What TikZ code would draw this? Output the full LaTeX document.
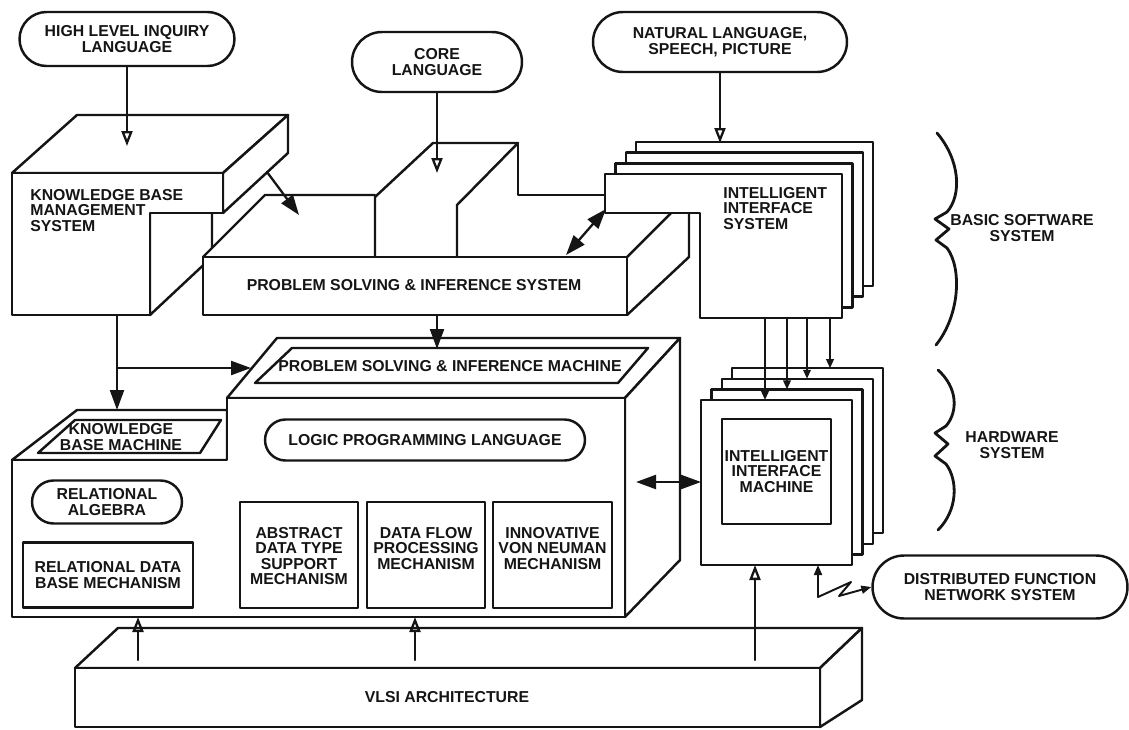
\documentclass[tikz,border=0pt]{standalone}
\usepackage{fontspec}
\setmainfont{Liberation Sans}
\usetikzlibrary{arrows.meta,shapes.misc}
\definecolor{FGInk}{HTML}{151515}
\definecolor{FGPaper}{HTML}{FFFFFF}

\begin{document}
\begin{tikzpicture}[x=0.02cm,y=-0.02cm,line cap=round,line join=round,
    font=\bfseries\fontsize{9}{8.8}\selectfont,
    ink/.style={draw=FGInk,line width=1.4pt},
    face/.style={ink,fill=FGPaper},
    pill/.style={ink,fill=FGPaper,rounded rectangle,align=center,inner sep=0pt,text=FGInk},
    mech/.style={ink,fill=FGPaper,rectangle,align=center,inner sep=0pt,text=FGInk},
    lbl/.style={align=center,inner sep=0pt,text=FGInk},
    feed/.style={draw=FGInk,line width=1.3pt,-{Triangle[open,length=0.3cm,width=0.22cm,line width=1.3pt]}},
    flow/.style={draw=FGInk,line width=1.3pt,-{Triangle[length=0.4cm,width=0.28cm]}},
    twoway/.style={draw=FGInk,line width=1.3pt,{Triangle[length=0.4cm,width=0.28cm]}-{Triangle[length=0.4cm,width=0.28cm]}},
    busarrow/.style={draw=FGInk,line width=1.1pt,-{Triangle[length=0.18cm,width=0.15cm]}},
    zap/.style={draw=FGInk,line width=1.1pt,{Triangle[length=0.2cm,width=0.16cm]}-{Triangle[length=0.2cm,width=0.16cm]}},
    curly/.style={draw=FGInk,line width=1.6pt}]
  \useasboundingbox (0,0) rectangle (1129,730);

  % language inputs
  \node[pill,minimum width=4.3cm,minimum height=1.08cm] (hlil) at (127,39) {HIGH LEVEL INQUIRY\\LANGUAGE};
  \node[pill,minimum width=3.4cm,minimum height=1.2cm] (core) at (437,62) {CORE\\LANGUAGE};
  \node[pill,minimum width=5.08cm,minimum height=1.2cm] (nlsp) at (720,42) {NATURAL LANGUAGE,\\SPEECH, PICTURE};

  % knowledge base management system
  \draw[face] (150,213) -- (212,155) -- (212,257) -- (150,315) -- cycle;
  \draw[face] (12,173) -- (77,115) -- (288,115) -- (223,173) -- cycle;
  \draw[face] (223,173) -- (288,115) -- (288,153) -- (223,213) -- cycle;
  \draw[face] (12,173) -- (223,173) -- (223,213) -- (150,213) -- (150,315) -- (12,315) -- cycle;
  \node[lbl,align=left,anchor=north west] (kbms) at (30,189) {KNOWLEDGE BASE\\MANAGEMENT\\SYSTEM};

  % problem solving & inference system
  \fill[FGPaper] (203,315) -- (203,257) -- (265,195) -- (375,195) -- (433,143) -- (518,143) -- (518,195) -- (689,195) -- (689,257) -- (627,315) -- cycle;
  \draw[ink] (203,257) rectangle (627,315);
  \draw[ink] (203,257) -- (265,195) -- (375,195);
  \draw[ink] (375,257) -- (375,197) -- (433,143) -- (518,143) -- (457,205) -- (457,257);
  \draw[ink] (518,143) -- (518,195) -- (605,195);
  \draw[ink] (627,257) -- (689,195) -- (689,257) -- (627,315);
  \node[lbl] (psis) at (414,285) {PROBLEM SOLVING \& INFERENCE SYSTEM};

  % intelligent interface system
  \foreach \k in {3,2,1,0}
    \draw[face,shift={(10.4*\k,-10.7*\k)}] (605,174) -- (842,174) -- (842,318) -- (700,318) -- (700,213) -- (605,213) -- cycle;
  \node[lbl,align=left,anchor=north west] (iis) at (723,187) {INTELLIGENT\\INTERFACE\\SYSTEM};

  % machines
  \draw[face] (12,460) -- (77,410) -- (227,410) -- (227,460) -- cycle;
  \draw[face] (227,398) -- (277,338) -- (680,338) -- (625,398) -- cycle;
  \draw[face] (625,398) -- (680,338) -- (680,560) -- (625,617) -- cycle;
  \draw[face] (12,617) -- (12,460) -- (227,460) -- (227,398) -- (625,398) -- (625,617) -- cycle;
  \draw[ink] (38,453) -- (75,420) -- (221,420) -- (200,453) -- cycle;
  \draw[ink] (255,383) -- (292,348) -- (648,348) -- (618,383) -- cycle;
  \node[lbl] (kbm) at (121,437) {KNOWLEDGE\\BASE MACHINE};
  \node[lbl] (psim) at (450,366) {PROBLEM SOLVING \& INFERENCE MACHINE};
  \node[pill,minimum width=6.4cm,minimum height=0.82cm] (lpl) at (425,440) {LOGIC PROGRAMMING LANGUAGE};
  \node[pill,minimum width=3cm,minimum height=0.86cm] (ralg) at (107,502) {RELATIONAL\\ALGEBRA};
  \node[mech,minimum width=3.4cm,minimum height=1.3cm] (rdbm) at (108,575) {RELATIONAL DATA\\BASE MECHANISM};
  \node[mech,minimum width=2.36cm,minimum height=2.12cm] (adt) at (299,555) {};
  \node[mech,minimum width=2.36cm,minimum height=2.12cm] (dfpm) at (426,555) {};
  \node[mech,minimum width=2.38cm,minimum height=2.12cm] (ivnm) at (552.5,555) {};
  \node[lbl,anchor=north] (adtt) at (299,527) {ABSTRACT\\DATA TYPE\\SUPPORT\\MECHANISM};
  \node[lbl,anchor=north] (dfpmt) at (426,527) {DATA FLOW\\PROCESSING\\MECHANISM};
  \node[lbl,anchor=north] (ivnmt) at (552.5,527) {INNOVATIVE\\VON NEUMAN\\MECHANISM};

  % intelligent interface machine
  \foreach \k in {3,2,1,0}
    \draw[face,shift={(10.4*\k,-10.6*\k)}] (701,400) rectangle (852,565);
  \node[mech,minimum width=2.18cm,minimum height=2.1cm] (iim) at (776.5,471.5) {INTELLIGENT\\INTERFACE\\MACHINE};

  % vlsi
  \draw[face] (75,668) -- (118,628) -- (862,628) -- (820,668) -- cycle;
  \draw[face] (820,668) -- (862,628) -- (862,700) -- (820,727) -- cycle;
  \draw[face] (75,668) rectangle (820,727);
  \node[lbl] (vlsi) at (447,697) {VLSI ARCHITECTURE};

  \node[pill,minimum width=5.1cm,minimum height=1.26cm] (dfns) at (1000,587) {DISTRIBUTED FUNCTION\\NETWORK SYSTEM};

  % levels
  \draw[curly] (937,133) .. controls (960,160) and (962,195) .. (947,212) -- (935,219) -- (949,229) -- (936,240) -- (947,248) .. controls (962,268) and (960,315) .. (936,345);
  \draw[curly] (938,370) .. controls (958,388) and (958,412) .. (946,426) -- (935,433) -- (948,444) -- (935,456) -- (946,464) .. controls (958,480) and (958,510) .. (938,530);
  \node[lbl] (bss) at (1022,228) {BASIC SOFTWARE\\SYSTEM};
  \node[lbl] (hws) at (1012,445) {HARDWARE\\SYSTEM};

  % connectors
  \coordinate (kbmsin) at (127,146);
  \coordinate (psisin) at (437,173);
  \coordinate (iisin) at (720,143);
  \coordinate (kbmsout) at (117,315);
  \coordinate (kbmin) at (117,410);
  \coordinate (fork) at (117,368);
  \coordinate (psimin) at (251,368);
  \coordinate (kbside) at (267,172);
  \coordinate (psisdrop) at (299,215);
  \coordinate (iisport) at (606,209);
  \coordinate (psisport) at (566,255);
  \coordinate (psisout) at (437,315);
  \coordinate (psimtop) at (437,349);
  \coordinate (psimport) at (636,482);
  \coordinate (iimport) at (701,482);
  \coordinate (mbase) at (0,617);
  \coordinate (iimbase) at (818,565);
  \coordinate (vlsia) at (138,660);
  \coordinate (vlsib) at (415,660);
  \coordinate (vlsic) at (755,660);
  \draw[feed] (hlil.south) -- (kbmsin);
  \draw[feed] (core.south) -- (psisin);
  \draw[feed] (nlsp.south) -- (iisin);
  \draw[flow] (kbmsout) -- (kbmin);
  \draw[flow] (fork) -- (psimin);
  \draw[flow] (kbside) -- (psisdrop);
  \draw[twoway] (iisport) -- (psisport);
  \draw[flow] (psisout) -- (psimtop);
  \draw[twoway] (psimport) -- (iimport);
  \foreach \x/\k in {765/0,787/1,807/2,830/3} {
    \coordinate (bus\k) at (\x,318);
    \coordinate (sheet\k) at (\x,400-10.6*\k);
    \draw[busarrow] (bus\k) -- (sheet\k);
  }
  \draw[feed] (vlsia) -- (vlsia |- mbase);
  \draw[feed] (vlsib) -- (vlsib |- mbase);
  \draw[feed] (vlsic) -- (vlsic |- iimbase);
  \draw[zap] (iimbase) -- ++(0,32) -- ++(33,-15) -- ++(-12,14) -- (dfns.west);
\end{tikzpicture}
\end{document}
